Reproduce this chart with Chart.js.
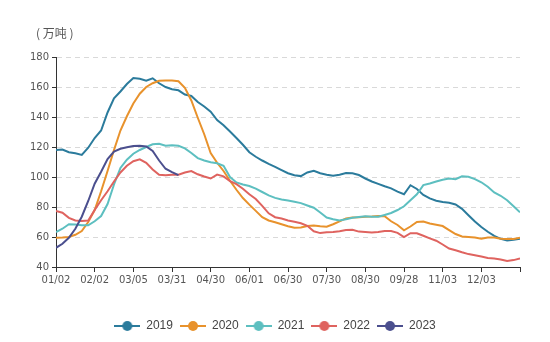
<!DOCTYPE html>
<html>
<head>
<meta charset="utf-8">
<script src="https://cdn.jsdelivr.net/npm/chart.js@4.4.1/dist/chart.umd.min.js"></script>
<style>
  html, body { margin: 0; padding: 0; background: #ffffff; }
  #wrap { width: 550px; height: 342px; position: relative; }
</style>
</head>
<body>
<div id="wrap"><canvas id="chart"></canvas></div>
<script>
// Axis tick labels (one every POINTS_PER_TICK samples)
const tickLabels = ['01/02', '02/02', '03/05', '03/31', '04/30', '06/01', '06/30', '07/30', '08/30', '09/28', '11/03', '12/03'];
const POINTS_PER_TICK = 6;

const seriesNames = ['2019', '2020', '2021', '2022', '2023'];

// Inventory, 10k tonnes
const s2019 = [118, 118.3, 116.5, 115.8, 114.7, 119.5, 126, 131, 143, 152.5, 157, 162, 166, 165.5, 164.2, 165.8, 162.5, 160, 158.5,
  157.8, 155, 154, 150, 147, 143.5, 138, 134.5, 130.3, 126, 121.5, 116.5, 113.5, 111, 108.8, 106.8, 104.6, 102.5,
  101.2, 100.6, 103, 104.2, 102.5, 101.5, 100.8, 101.5, 102.6, 102.5, 101.3, 99, 97, 95.4, 93.8, 92.4, 90.2, 88.5,
  94.5, 92, 88, 85.7, 84.2, 83.3, 82.8, 81.7, 78.8, 74.5, 70.3, 66.7, 63.5, 60.8, 58.8, 57.7, 58.2, 58.9];
const s2020 = [59.5, 59.7, 60, 61.5, 64, 70, 78, 90.5, 104, 118, 131, 140.5, 149, 155.5, 160, 162.5, 164.2, 164.4, 164.4,
  163.8, 159.5, 151, 139.5, 128.5, 116, 109.5, 104, 97.5, 91.5, 86, 81.6, 77.4, 73.2, 71, 69.8, 68.5, 67.2,
  66.2, 66.3, 67.3, 67.7, 67.2, 66.8, 68.5, 70.4, 72.4, 73, 73.2, 73.5, 73.7, 74, 73.8, 70.5, 68, 64.5,
  67, 70, 70.3, 69, 68.2, 67.3, 64.6, 62, 60.3, 60, 59.6, 58.9, 59.7, 59.6, 58.9, 58.6, 58.6, 59.5];
const s2021 = [63.3, 65.5, 68.5, 68.3, 67.8, 67.8, 70.5, 74, 82, 95, 106, 111.5, 115.5, 118, 120, 121.8, 122.2, 120.8, 121.2,
  120.8, 119.1, 116, 112.6, 111, 109.8, 109.2, 107.5, 100, 96.4, 95, 94, 92.2, 90, 87.7, 86.1, 85, 84.3,
  83.5, 82.6, 81, 79.5, 76.3, 73, 71.8, 71, 71.8, 72.8, 73.3, 73.8, 73.5, 73.5, 74.7, 76, 78, 80.5,
  84.5, 88.5, 94.6, 95.7, 97, 98.2, 99, 98.5, 100.5, 100.2, 98.6, 96.5, 93.5, 89.7, 87.5, 84.5, 80.5, 76.5];
const s2022 = [77.3, 76.2, 72.8, 71, 70.7, 71, 78, 84.5, 90.5, 97, 103, 107.5, 110.5, 111.8, 109.5, 105, 101.5, 101.2, 101.5,
  101.5, 103, 104, 101.8, 100.3, 99, 101.6, 100.4, 97.3, 95.2, 92.2, 88.5, 85.3, 80.8, 75.8, 73.2, 72.3, 71,
  70.1, 69.2, 67.5, 63.8, 62.6, 63.2, 63.3, 63.9, 64.6, 64.8, 63.6, 63.3, 63, 63.3, 64, 64, 62.8, 60,
  62.5, 62.5, 60.8, 59.1, 57.5, 55, 52.3, 51.2, 49.8, 48.6, 47.9, 47, 46, 45.7, 45, 44, 44.6, 45.7];
const s2023 = [52.8, 55.5, 59.5, 65.5, 73.5, 84, 95.5, 103.5, 112, 117, 118.8, 119.8, 120.6, 120.8, 120.3, 117.3, 111, 105.5, 103.2,
  101.2];

const yTicks = { min: 40, max: 180, step: 20 };

const seriesValues = [s2019, s2020, s2021, s2022, s2023];
const seriesColors = ['#2b7b9c', '#e8922c', '#5dbfc0', '#df635f', '#4b4f8e'];

// Legend marker: short line with a dot in the middle
function legendMarker(color) {
  const c = document.createElement('canvas');
  c.width = 26; c.height = 12;
  const g = c.getContext('2d');
  g.strokeStyle = color; g.lineWidth = 2;
  g.beginPath(); g.moveTo(0, 6); g.lineTo(26, 6); g.stroke();
  g.fillStyle = color;
  g.beginPath(); g.arc(13, 6, 5, 0, Math.PI * 2); g.fill();
  return c;
}

const lastIndex = tickLabels.length * POINTS_PER_TICK;

const datasets = seriesNames.map((name, k) => ({
  label: name,
  data: seriesValues[k].map((v, i) => ({ x: i, y: v })),
  borderColor: seriesColors[k],
  backgroundColor: seriesColors[k],
  borderWidth: 2,
  pointRadius: 0,
  tension: 0,
  fill: false,
  order: seriesNames.length - k
}));

// Unit caption above the value axis
const unitCaption = {
  id: 'unitCaption',
  afterDraw(chart) {
    const ctx = chart.ctx;
    ctx.save();
    ctx.font = '12px "Noto Sans CJK SC", sans-serif';
    ctx.fillStyle = '#555';
    ctx.textBaseline = 'middle';
    ctx.textAlign = 'left';
    ctx.fillText('( 万吨 )', 36, 33);
    ctx.restore();
  }
};

new Chart(document.getElementById('chart'), {
  type: 'line',
  data: { datasets },
  plugins: [unitCaption],
  options: {
    responsive: true,
    maintainAspectRatio: false,
    animation: false,
    layout: { padding: { left: 0, right: 0, top: 57, bottom: 0 } },
    plugins: {
      tooltip: { enabled: false },
      legend: {
        position: 'bottom',
        labels: {
          usePointStyle: true,
          pointStyleWidth: 26,
          padding: 7,
          color: '#444',
          font: { size: 12, family: '"Liberation Sans", sans-serif' },
          generateLabels(chart) {
            return chart.data.datasets.map((ds, i) => ({
              text: ds.label,
              datasetIndex: i,
              pointStyle: legendMarker(ds.borderColor),
              fillStyle: ds.borderColor,
              strokeStyle: ds.borderColor,
              lineWidth: 0,
              hidden: false,
              fontColor: '#444'
            }));
          }
        }
      }
    },
    scales: {
      x: {
        type: 'linear',
        min: 0,
        max: lastIndex,
        afterBuildTicks(scale) {
          scale.ticks = [];
          for (let v = 0; v <= lastIndex; v += POINTS_PER_TICK) scale.ticks.push({ value: v });
        },
        afterFit(scale) {
          scale.paddingRight = 30;
          scale.height += 25;
        },
        ticks: {
          autoSkip: false,
          maxRotation: 0,
          padding: 2,
          color: '#555',
          font: { size: 10, family: '"DejaVu Sans", sans-serif' },
          callback(value) {
            const idx = Math.round(value / POINTS_PER_TICK);
            return tickLabels[idx] !== undefined ? tickLabels[idx] : '';
          }
        },
        grid: { drawOnChartArea: false, tickLength: 5, tickColor: '#333', lineWidth: 1 },
        border: { display: true, color: '#333', width: 1 }
      },
      y: {
        min: yTicks.min,
        max: yTicks.max,
        afterFit(scale) { scale.width = 56; },
        ticks: {
          stepSize: yTicks.step,
          padding: 3,
          color: '#555',
          font: { size: 10, family: '"DejaVu Sans", sans-serif' }
        },
        grid: {
          color: (ctx) => ctx.tick && ctx.tick.value === yTicks.min ? 'rgba(0,0,0,0)' : '#d9d9d9',
          tickColor: '#333',
          tickLength: 4,
          lineWidth: 1
        },
        border: { display: true, color: '#333', width: 1, dash: [5, 4] }
      }
    }
  }
});
</script>
</body>
</html>
